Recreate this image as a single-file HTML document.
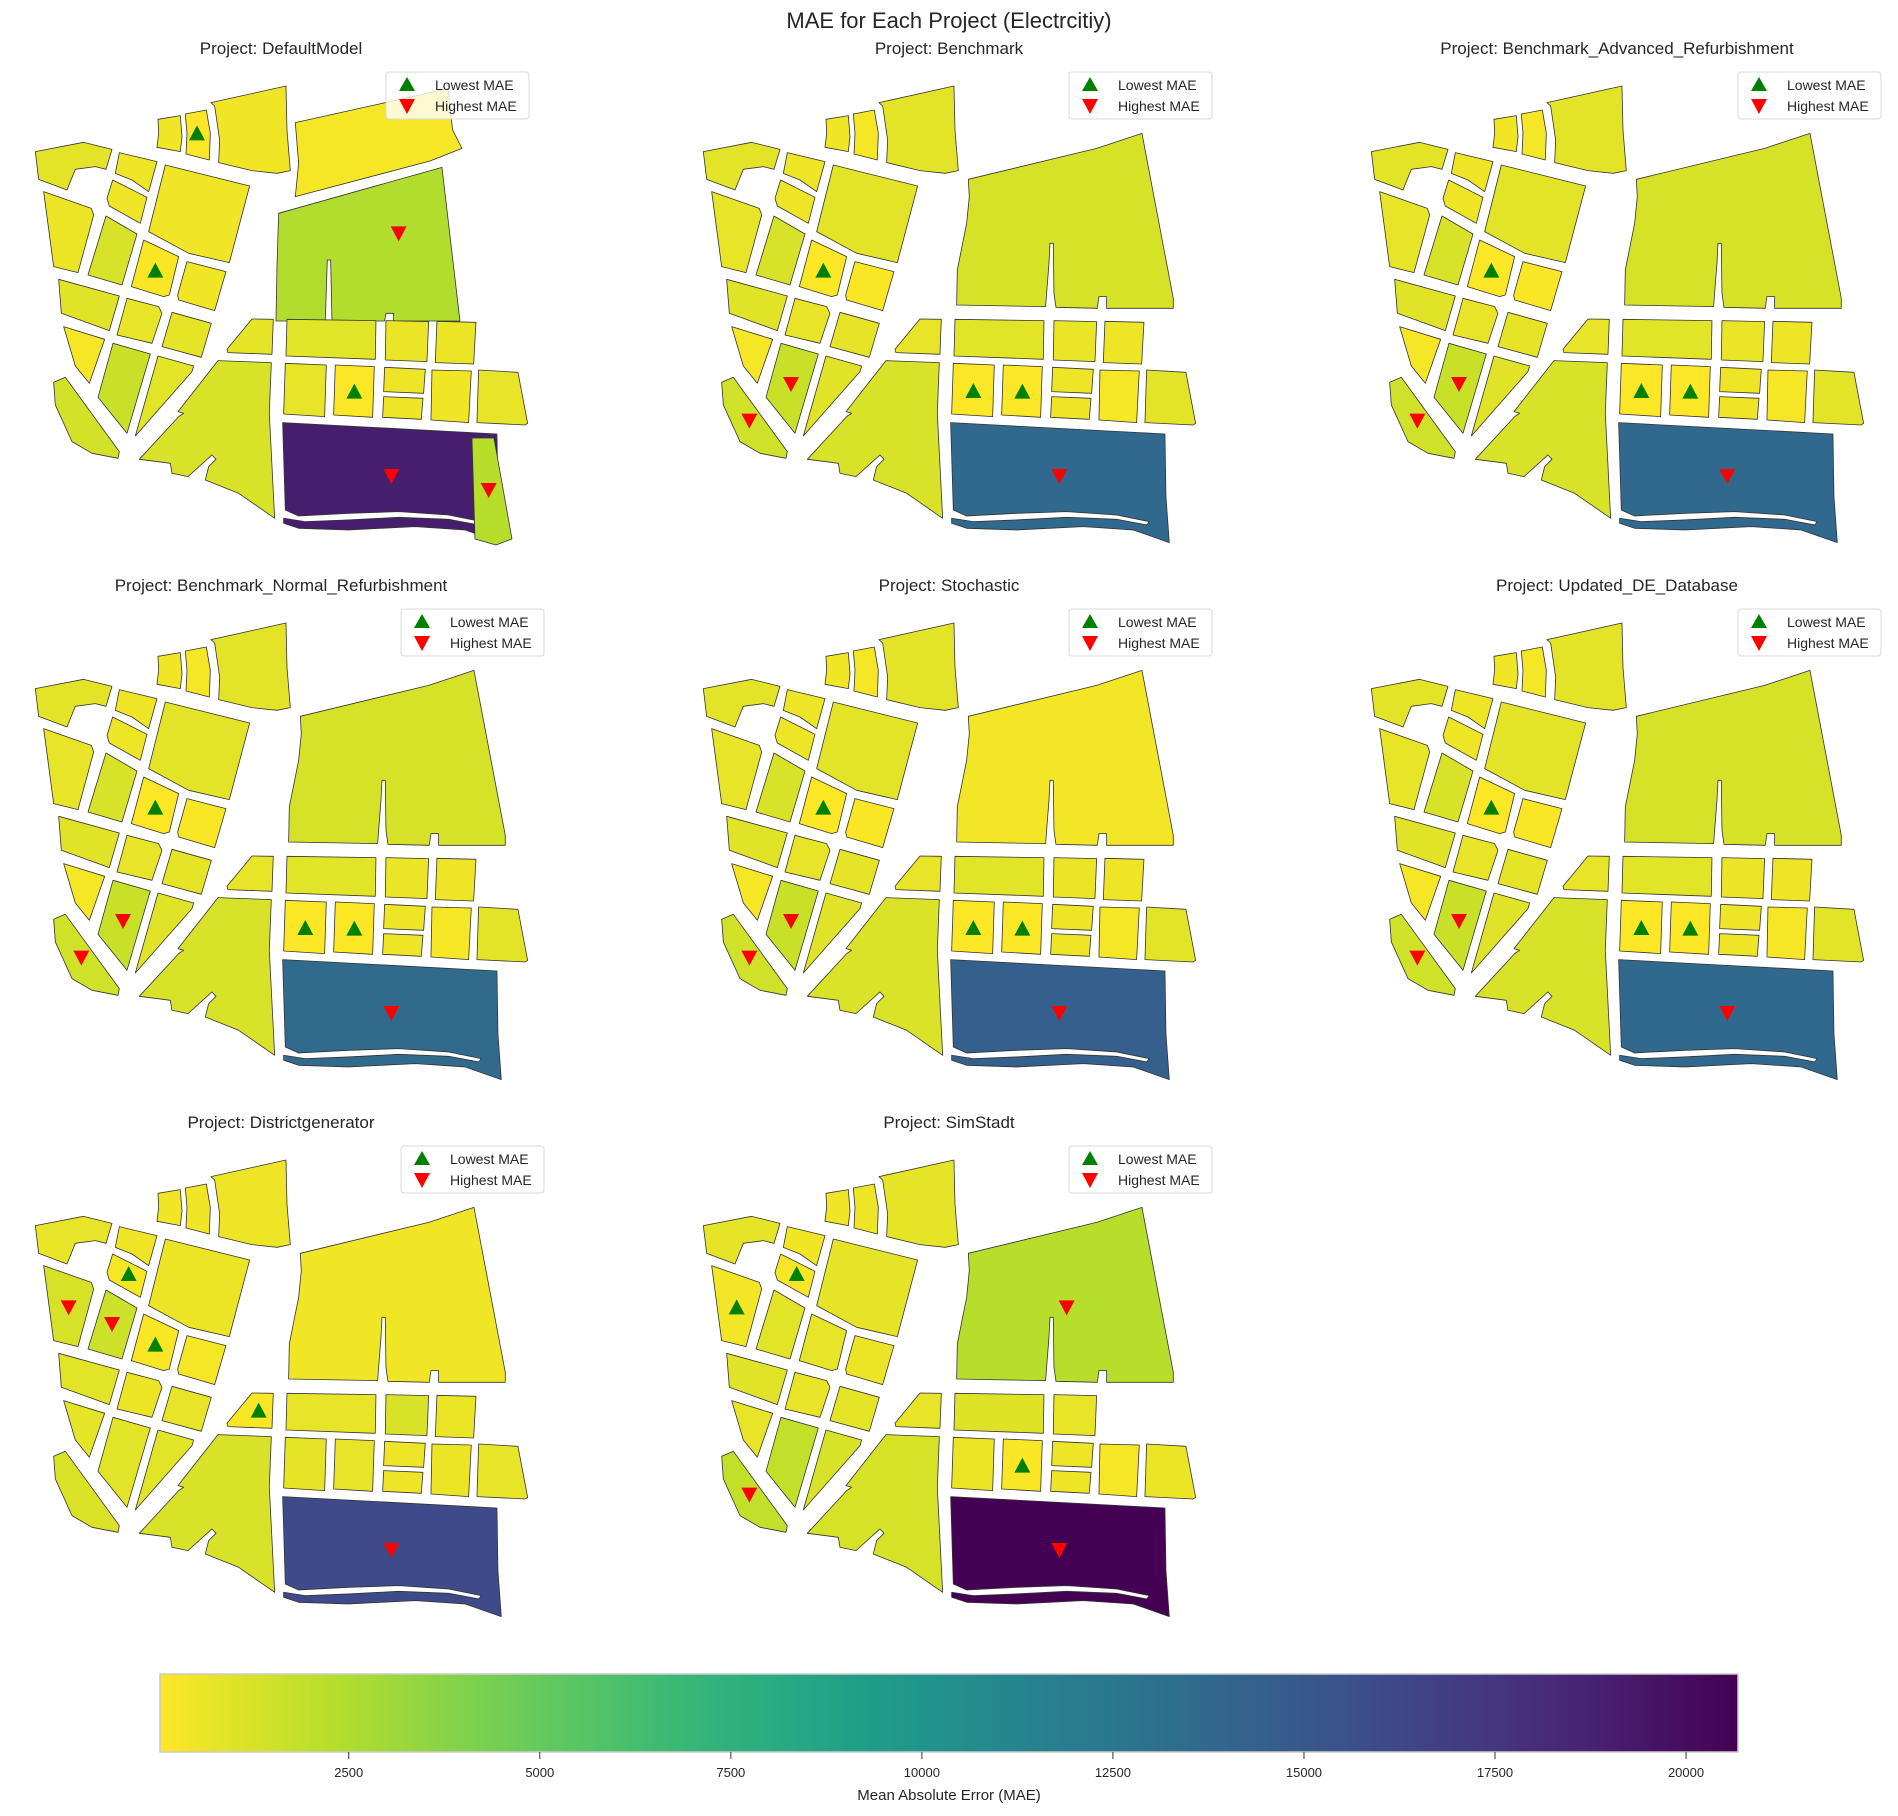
<!DOCTYPE html>
<html><head><meta charset="utf-8"><style>
body{margin:0;background:#fff}
svg text{font-family:"Liberation Sans",Arial,sans-serif;fill:#262626}
</style></head><body>
<svg id="chart" width="1898" height="1811" viewBox="0 0 1898 1811" xmlns="http://www.w3.org/2000/svg">
<text x="949" y="28" font-size="22" text-anchor="middle">MAE for Each Project (Electrcitiy)</text>
<g id="panels"></g>
<g id="cbar"></g>
</svg>
<script>
const projects=["DefaultModel","Benchmark","Benchmark_Advanced_Refurbishment","Benchmark_Normal_Refurbishment","Stochastic","Updated_DE_Database","Districtgenerator","SimStadt"];
const maeDefault=[850,500,500,600,1200,150,450,400,950,700,800,300,1700,900,1400,1200,800,2500,900,650,600,450,100,400,700,100,500,500,400,700,19000];
const maeDefaultExtra=[300,2300];
const maeBenchmark=[850,500,500,700,1200,100,850,150,950,700,800,300,1700,950,1500,1200,700,1270,900,650,500,400,300,850,100,100,500,500,300,850,13700];
const maeAdvanced=[850,500,500,700,1200,100,850,150,950,700,800,300,1700,950,1500,1200,700,1270,900,650,500,400,300,850,100,100,500,500,300,850,13800];
const maeNormal=[850,500,500,700,1200,100,850,150,950,700,800,300,1700,950,1500,1200,700,1270,900,650,500,400,300,850,100,100,500,500,300,850,13500];
const maeStochastic=[850,500,500,700,1200,100,850,150,950,700,800,300,1700,950,1500,1100,700,350,900,650,500,400,300,850,100,100,500,500,300,850,14500];
const maeUpdated=[850,500,500,700,1200,100,850,150,950,700,800,300,1700,950,1500,1200,700,1270,900,650,500,400,300,850,100,100,500,500,300,850,13700];
const maeDistrict=[700,500,300,1300,1600,150,600,300,900,600,700,800,900,900,1100,1200,150,400,700,1200,600,400,400,500,800,700,500,500,600,700,16100];
const maeSimStadt=[800,400,250,350,900,700,800,600,950,700,800,700,1900,1200,1900,1300,700,2300,1000,700,null,450,500,800,600,150,500,500,300,600,20680];
const allMAE=[maeDefault,maeBenchmark,maeAdvanced,maeNormal,maeStochastic,maeUpdated,maeDistrict,maeSimStadt];
const lowestIdx=[[22,5,25],[5,24,25],[5,24,25],[5,24,25],[5,24,25],[5,24,25],[2,5,16],[2,3,25]];
const highestIdx=[[17,30,32],[12,14,30],[12,14,30],[12,14,30],[12,14,30],[12,14,30],[3,4,30],[17,14,30]];
const cbTicks=[2500,5000,7500,10000,12500,15000,17500,20000];
const vmin=30, vmax=20680;

const polys=[
"10,215 155,187 240,208 222,268 190,260 130,268 105,330 20,298",
"262,218 375,245 350,335 300,300 250,280",
"242,300 345,352 325,430 232,378 225,355",
"35,335 178,385 185,405 138,578 65,560",
"222,408 315,462 270,615 168,585",
"335,480 440,530 412,645 395,650 298,620",
"400,255 653,318 592,548 470,520 350,455",
"465,545 582,575 548,692 440,660 437,645",
"80,598 262,648 232,752 88,700",
"285,655 380,680 390,700 360,790 255,765",
"420,697 538,730 508,832 390,800",
"95,740 218,778 172,910 130,858",
"243,790 355,822 285,1060 198,952",
"378,828 485,858 480,875 310,1068",
"65,907 100,892 262,1115 258,1135 180,1120 120,1085 70,975",
"558,842 718,848 712,1000 728,1315 620,1240 520,1200 530,1160 552,1138 540,1125 468,1190 420,1180 415,1150 322,1138 440,1010 455,1000 438,995",
"660,717 724,718 720,823 588,818 585,808",
"805,298 1190,205 1326,160 1420,655 1420,685 1220,685 1220,650 1197,650 1192,685 1068,682 1062,640 1060,490 1050,490 1047,550 1040,640 1037,680 770,675 772,570 800,430 808,350",
"765,718 1032,722 1030,838 762,828",
"1062,722 1190,725 1185,845 1060,840",
"1215,724 1332,727 1325,852 1210,848",
"378,118 445,107 450,170 445,215 375,202 380,160",
"460,102 523,90 535,160 532,240 462,222 465,160",
"537,68 762,18 765,150 775,272 735,280 660,272 560,248 563,180 548,78",
"760,850 883,855 878,1010 755,1002",
"910,855 1027,860 1022,1012 905,1005",
"1058,862 1180,868 1175,940 1055,935",
"1055,950 1173,955 1168,1018 1052,1012",
"1200,870 1318,873 1310,1028 1197,1020",
"1340,870 1458,877 1487,1030 1480,1035 1335,1028",
"752,1028 1395,1062 1398,1250 1408,1388 1300,1350 1150,1340 950,1350 800,1345 755,1330 755,1315 820,1325 950,1320 1100,1312 1250,1318 1340,1335 1348,1325 1250,1305 1100,1295 950,1300 800,1308 760,1290"];
const defaultBlock18="740,400 1230,262 1284,723 1085,723 1085,700 1062,700 1058,723 900,723 896,540 886,540 880,723 732,723 735,560";
const defaultExtraPolys=["790,128 1248,26 1262,150 1290,205 1194,243 790,350 800,250",
"1320,1074 1386,1074 1440,1377 1392,1395 1329,1377"];
const markPts=[[120,260],[310,275],[290,360],[110,460],[240,510],[370,572],[500,400],[510,620],[170,675],[320,725],[465,765],[160,820],[273,912],[400,940],[148,1022],[600,1050],[680,770],[1100,460],[900,780],[1125,785],[1270,790],[412,160],[495,160],[660,160],[820,933],[967,935],[1118,902],[1112,985],[1258,950],[1405,950],[1078,1188],[1000,200],[1370,1230]];
const legendX=[386,1069,1738,401,1069,1738,401,1069];

const V=["#440154","#482878","#3e4a89","#31688e","#26828e","#1f9e89","#35b779","#6ece58","#b5de2b","#fde725"];
function hex(h){return [1,3,5].map(i=>parseInt(h.substr(i,2),16));}
function viridis(t){t=Math.max(0,Math.min(1,t));const f=t*9,i=Math.min(8,Math.floor(f)),r=f-i;const a=hex(V[i]),b=hex(V[i+1]);return "rgb("+a.map((c,k)=>Math.round(c+(b[k]-c)*r)).join(",")+")";}
function colorFor(v){return viridis(1-(v-vmin)/(vmax-vmin));}

const NS="http://www.w3.org/2000/svg";
function mk(tag,attrs,parent){const e=document.createElementNS(NS,tag);for(const k in attrs)e.setAttribute(k,attrs[k]);parent.appendChild(e);return e;}
const panels=document.getElementById("panels");
projects.forEach((name,p)=>{
  const col=p%3,row=Math.floor(p/3);
  const ox=32+col*668, oy=80+row*537;
  const g=mk("g",{},panels);
  
  
  const t=mk("text",{x:281+col*668,y:54+row*537,"font-size":"17","text-anchor":"middle"},g);
  t.textContent="Project: "+name;
  
  
  const m=mk("g",{transform:"translate("+ox+","+oy+") scale(0.3333)"},g);
  const vals=allMAE[p];
  polys.forEach((pts,i)=>{
    if(vals[i]==null)return;
    const shape=(p===0&&i===17)?defaultBlock18:pts;
    const pg=mk("polygon",{points:shape,fill:colorFor(vals[i]),stroke:"#333","stroke-width":"2.4","stroke-linejoin":"round"},m);
    
    
  });
  if(p===0){
    defaultExtraPolys.forEach((pts,i)=>{
      const pg=mk("polygon",{points:pts,fill:colorFor(maeDefaultExtra[i]),stroke:"#333","stroke-width":"2.4","stroke-linejoin":"round"},m);
      
      
    });
  }
  lowestIdx[p].forEach(i=>{
    const x=ox+markPts[i][0]/3,y=oy+markPts[i][1]/3;
    const tr=mk("polygon",{points:(x-8)+","+(y+7)+" "+(x+8)+","+(y+7)+" "+x+","+(y-8),fill:"#008000"},g);
    
    
  });
  highestIdx[p].forEach(i=>{
    const x=ox+markPts[i][0]/3,y=oy+markPts[i][1]/3;
    const tr=mk("polygon",{points:(x-8)+","+(y-7)+" "+(x+8)+","+(y-7)+" "+x+","+(y+8),fill:"#ff0000"},g);
    
    
  });
  const lx=legendX[p], ly=72+row*537;
  const lg=mk("g",{},g);
  
  
  mk("rect",{x:lx,y:ly,width:143,height:47,rx:3,fill:"#fff","fill-opacity":"0.8",stroke:"#d9d9d9"},lg);
  const a=lx+21;
  const e1=mk("polygon",{points:(a-8)+","+(ly+19)+" "+(a+8)+","+(ly+19)+" "+a+","+(ly+5),fill:"#008000"},lg);
  
  
  const e2=mk("polygon",{points:(a-8)+","+(ly+27)+" "+(a+8)+","+(ly+27)+" "+a+","+(ly+42),fill:"#ff0000"},lg);
  
  
  const t1=mk("text",{x:lx+49,y:ly+18,"font-size":"14"},lg);t1.textContent="Lowest MAE";
  
  
  const t2=mk("text",{x:lx+49,y:ly+39,"font-size":"14"},lg);t2.textContent="Highest MAE";
  
  
});
const cb=document.getElementById("cbar");
const cx0=160,cx1=1738,cy0=1674,cy1=1752;
function cbx(v){return cx0+(v-vmin)/(vmax-vmin)*(cx1-cx0);}
const defs=mk("defs",{},cb);
const grad=mk("linearGradient",{id:"vg",x1:"0",x2:"1",y1:"0",y2:"0"},defs);
for(let k=0;k<=20;k++){mk("stop",{offset:(k/20),"stop-color":viridis(1-k/20)},grad);}
const bar=mk("rect",{x:cx0,y:cy0,width:cx1-cx0,height:cy1-cy0,fill:"url(#vg)",stroke:"#cccccc","stroke-width":"1.5"},cb);


cbTicks.forEach(v=>{
  const x=cbx(v);
  const tl=mk("line",{x1:x,x2:x,y1:cy1,y2:cy1+7,stroke:"#333","stroke-width":"1"},cb);
  
  
  const tx=mk("text",{x:x,y:cy1+25,"font-size":"13","text-anchor":"middle"},cb);
  tx.textContent=v;
  
  
});
const cl=mk("text",{x:949,y:1800,"font-size":"15","text-anchor":"middle"},cb);
cl.textContent="Mean Absolute Error (MAE)";


</script>
</body></html>
